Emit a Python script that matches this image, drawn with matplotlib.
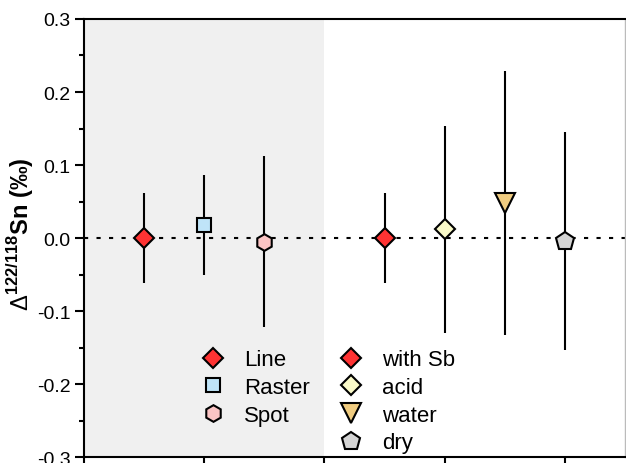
import matplotlib
matplotlib.use('Agg')
import matplotlib.pyplot as plt
from matplotlib.lines import Line2D
from matplotlib.ticker import MultipleLocator, FormatStrFormatter

plt.rcParams['font.family'] = ['Liberation Sans', 'DejaVu Sans']
plt.rcParams['axes.unicode_minus'] = False
plt.rcParams['mathtext.fontset'] = 'custom'
plt.rcParams['mathtext.rm'] = 'Liberation Sans'
plt.rcParams['mathtext.bf'] = 'Liberation Sans:bold'

# ---- data ----
labels = ['Line', 'Raster', 'Spot', 'with Sb', 'acid', 'water', 'dry']
x_pos = [1, 2, 3, 5, 6, 7, 8]
values = [0.0, 0.018, -0.005, 0.0, 0.012, 0.048, -0.004]
errors = [0.061, 0.068, 0.117, 0.061, 0.142, 0.181, 0.149]
markers = ['D', 's', 'h', 'D', 'D', 'v', 'p']
colors = ['#ff3333', '#bfe4f8', '#fbc4c4', '#ff3333', '#fafac9', '#f0cc80', '#d4d4d4']
sizes = [10, 9.5, 12, 10, 10, 14, 13.5]
shade_range = (0, 4)
y_ticks = [-0.3, -0.2, -0.1, 0.0, 0.1, 0.2, 0.3]
x_ticks = [0, 2, 4, 6, 8]

fig = plt.figure(figsize=(6.26, 4.64), dpi=100)
ax = fig.add_axes([0.1335, 0.0129, 0.8655, 0.944])

ax.axvspan(shade_range[0], shade_range[1], color='#f0f0f0', zorder=0, lw=0)
ax.axhline(0, color='black', lw=1.5, linestyle=(0, (2, 4)), zorder=1)

handles = []
for xi, yi, ei, m, c, s, lab in zip(x_pos, values, errors, markers, colors, sizes, labels):
    ax.errorbar(xi, yi, yerr=ei, fmt='none', ecolor='black', elinewidth=1.5,
                capsize=0, zorder=2)
    ax.plot(xi, yi, marker=m, markersize=s, markerfacecolor=c,
            markeredgecolor='black', markeredgewidth=1.5, linestyle='none', zorder=3)
    handles.append(Line2D([], [], marker=m, markersize=s, markerfacecolor=c,
                          markeredgecolor='black', markeredgewidth=1.5, linestyle='none',
                          label=lab))

blank = Line2D([], [], linestyle='none', marker=None, label=' ')
leg_handles = handles[:3] + [blank] + handles[3:]
leg = ax.legend(handles=leg_handles, ncol=2, loc='upper left',
                bbox_to_anchor=(0.189, 0.266), frameon=False, fontsize=16,
                handletextpad=0.6, labelspacing=0.3, columnspacing=1.05,
                handlelength=1.6, borderaxespad=0)

ax.set_xlim(0, 9)
ax.set_ylim(-0.3, 0.3)
ax.set_xticks(x_ticks)
ax.set_xticklabels([])
ax.set_yticks(y_ticks)
ax.yaxis.set_major_formatter(FormatStrFormatter('%.1f'))
ax.yaxis.set_minor_locator(MultipleLocator(0.05))
ax.tick_params(axis='both', which='major', direction='out', length=6.5, width=1.5,
               labelsize=14, pad=3)
ax.tick_params(axis='y', which='minor', direction='out', length=3.5, width=1.5)
for sp in ax.spines.values():
    sp.set_linewidth(1.5)
ax.spines['right'].set_linewidth(1.0)
ax.spines['right'].set_color('#bbbbbb')

ax.set_ylabel(r'$\Delta^{\mathbf{122/118}}$Sn (‰)', fontsize=17, fontweight='bold')
ax.yaxis.set_label_coords(-0.087, 0.511)

fig.savefig('out.png', dpi=100)
